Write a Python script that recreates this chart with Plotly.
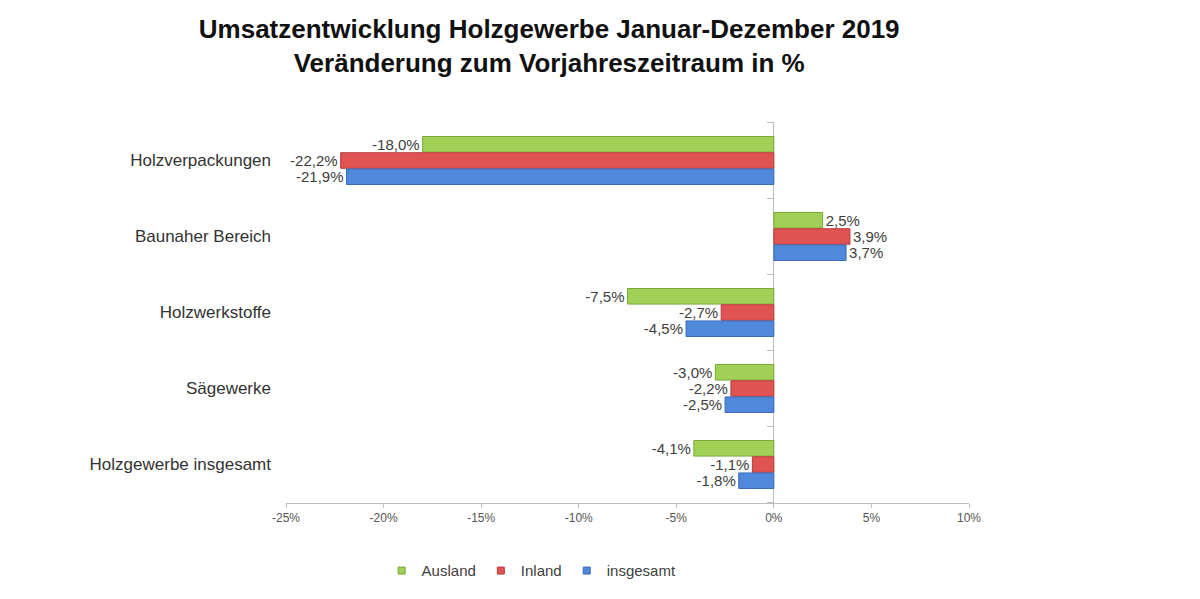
import plotly.graph_objects as go

# Branchen (von oben nach unten) und Veränderung zum Vorjahr in %
categories = ["Holzverpackungen", "Baunaher Bereich", "Holzwerkstoffe",
              "Sägewerke", "Holzgewerbe insgesamt"]
ausland = [-18.0, 2.5, -7.5, -3.0, -4.1]
inland = [-22.2, 3.9, -2.7, -2.2, -1.1]
insgesamt = [-21.9, 3.7, -4.5, -2.5, -1.8]

x_ticks = [-25, -20, -15, -10, -5, 0, 5, 10]
x_tick_labels = [f"{t}%" for t in x_ticks]

series = [
    ("Ausland", ausland, "#a0d055", "#7aa83a"),
    ("Inland", inland, "#e05353", "#b83c3c"),
    ("insgesamt", insgesamt, "#5089dc", "#3a6bb5"),
]

FONT = "Liberation Sans, Arial"


def fmt(v):
    # deutsches Dezimalkomma
    return f"{v:.1f}%".replace(".", ",")


fig = go.Figure()
for name, vals, color, edge in series:
    fig.add_trace(go.Bar(
        name=name,
        y=categories,
        x=vals,
        orientation="h",
        marker=dict(color=color, line=dict(color=edge, width=1)),
        text=[fmt(v) for v in vals],
        textposition="outside",
        constraintext="none",
        cliponaxis=False,
        textfont=dict(size=15, color="#404040", family=FONT),
        showlegend=False,
        hovertemplate="%{y}: %{text}<extra>" + name + "</extra>",
    ))

# kleine quadratische Legendensymbole wie im Original
for name, vals, color, edge in series:
    fig.add_trace(go.Scatter(
        name=name,
        x=[None], y=[None],
        mode="markers",
        marker=dict(symbol="square", size=7, color=color,
                    line=dict(color=edge, width=1)),
        hoverinfo="skip",
    ))

# kleine Teilstriche an der Nulllinie zwischen den Kategorien
shapes = []
for k in range(len(categories) + 1):
    shapes.append(dict(type="line", xref="x", yref="y",
                       x0=-0.35, x1=0, y0=k - 0.5, y1=k - 0.5,
                       line=dict(color="#bfbfbf", width=1)))

# die Seite hat 8px Rand, daher sind die Ränder entsprechend verschoben
fig.update_layout(
    width=1200,
    height=599,
    paper_bgcolor="white",
    plot_bgcolor="white",
    barmode="group",
    bargap=0.36,
    bargroupgap=0.04,
    margin=dict(l=278, r=239, t=114, b=104),
    font=dict(family=FONT, color="#404040"),
    title=dict(
        text="<b>Umsatzentwicklung Holzgewerbe Januar-Dezember 2019<br>"
             "Veränderung zum Vorjahreszeitraum in %</b>",
        x=0.451, xanchor="center", y=0.95, yanchor="top",
        font=dict(size=26, color="#111111", family=FONT),
    ),
    xaxis=dict(
        range=[-25, 10],
        tickvals=x_ticks,
        ticktext=x_tick_labels,
        tickfont=dict(size=12, color="#555555"),
        showgrid=False,
        zeroline=True,
        zerolinecolor="#bfbfbf",
        zerolinewidth=1,
        showline=True,
        linecolor="#bfbfbf",
        ticks="outside",
        ticklen=4,
        tickcolor="#bfbfbf",
        automargin=False,
    ),
    yaxis=dict(
        autorange="reversed",
        showgrid=False,
        showline=False,
        ticks="",
        tickfont=dict(size=17, color="#333333"),
        ticklabelstandoff=14,
        automargin=False,
    ),
    legend=dict(
        orientation="h",
        x=0.14, xanchor="left",
        y=-0.178, yanchor="middle",
        font=dict(size=15, color="#404040"),
        itemwidth=30,
    ),
    shapes=shapes,
)

fig.write_html("out.html")
